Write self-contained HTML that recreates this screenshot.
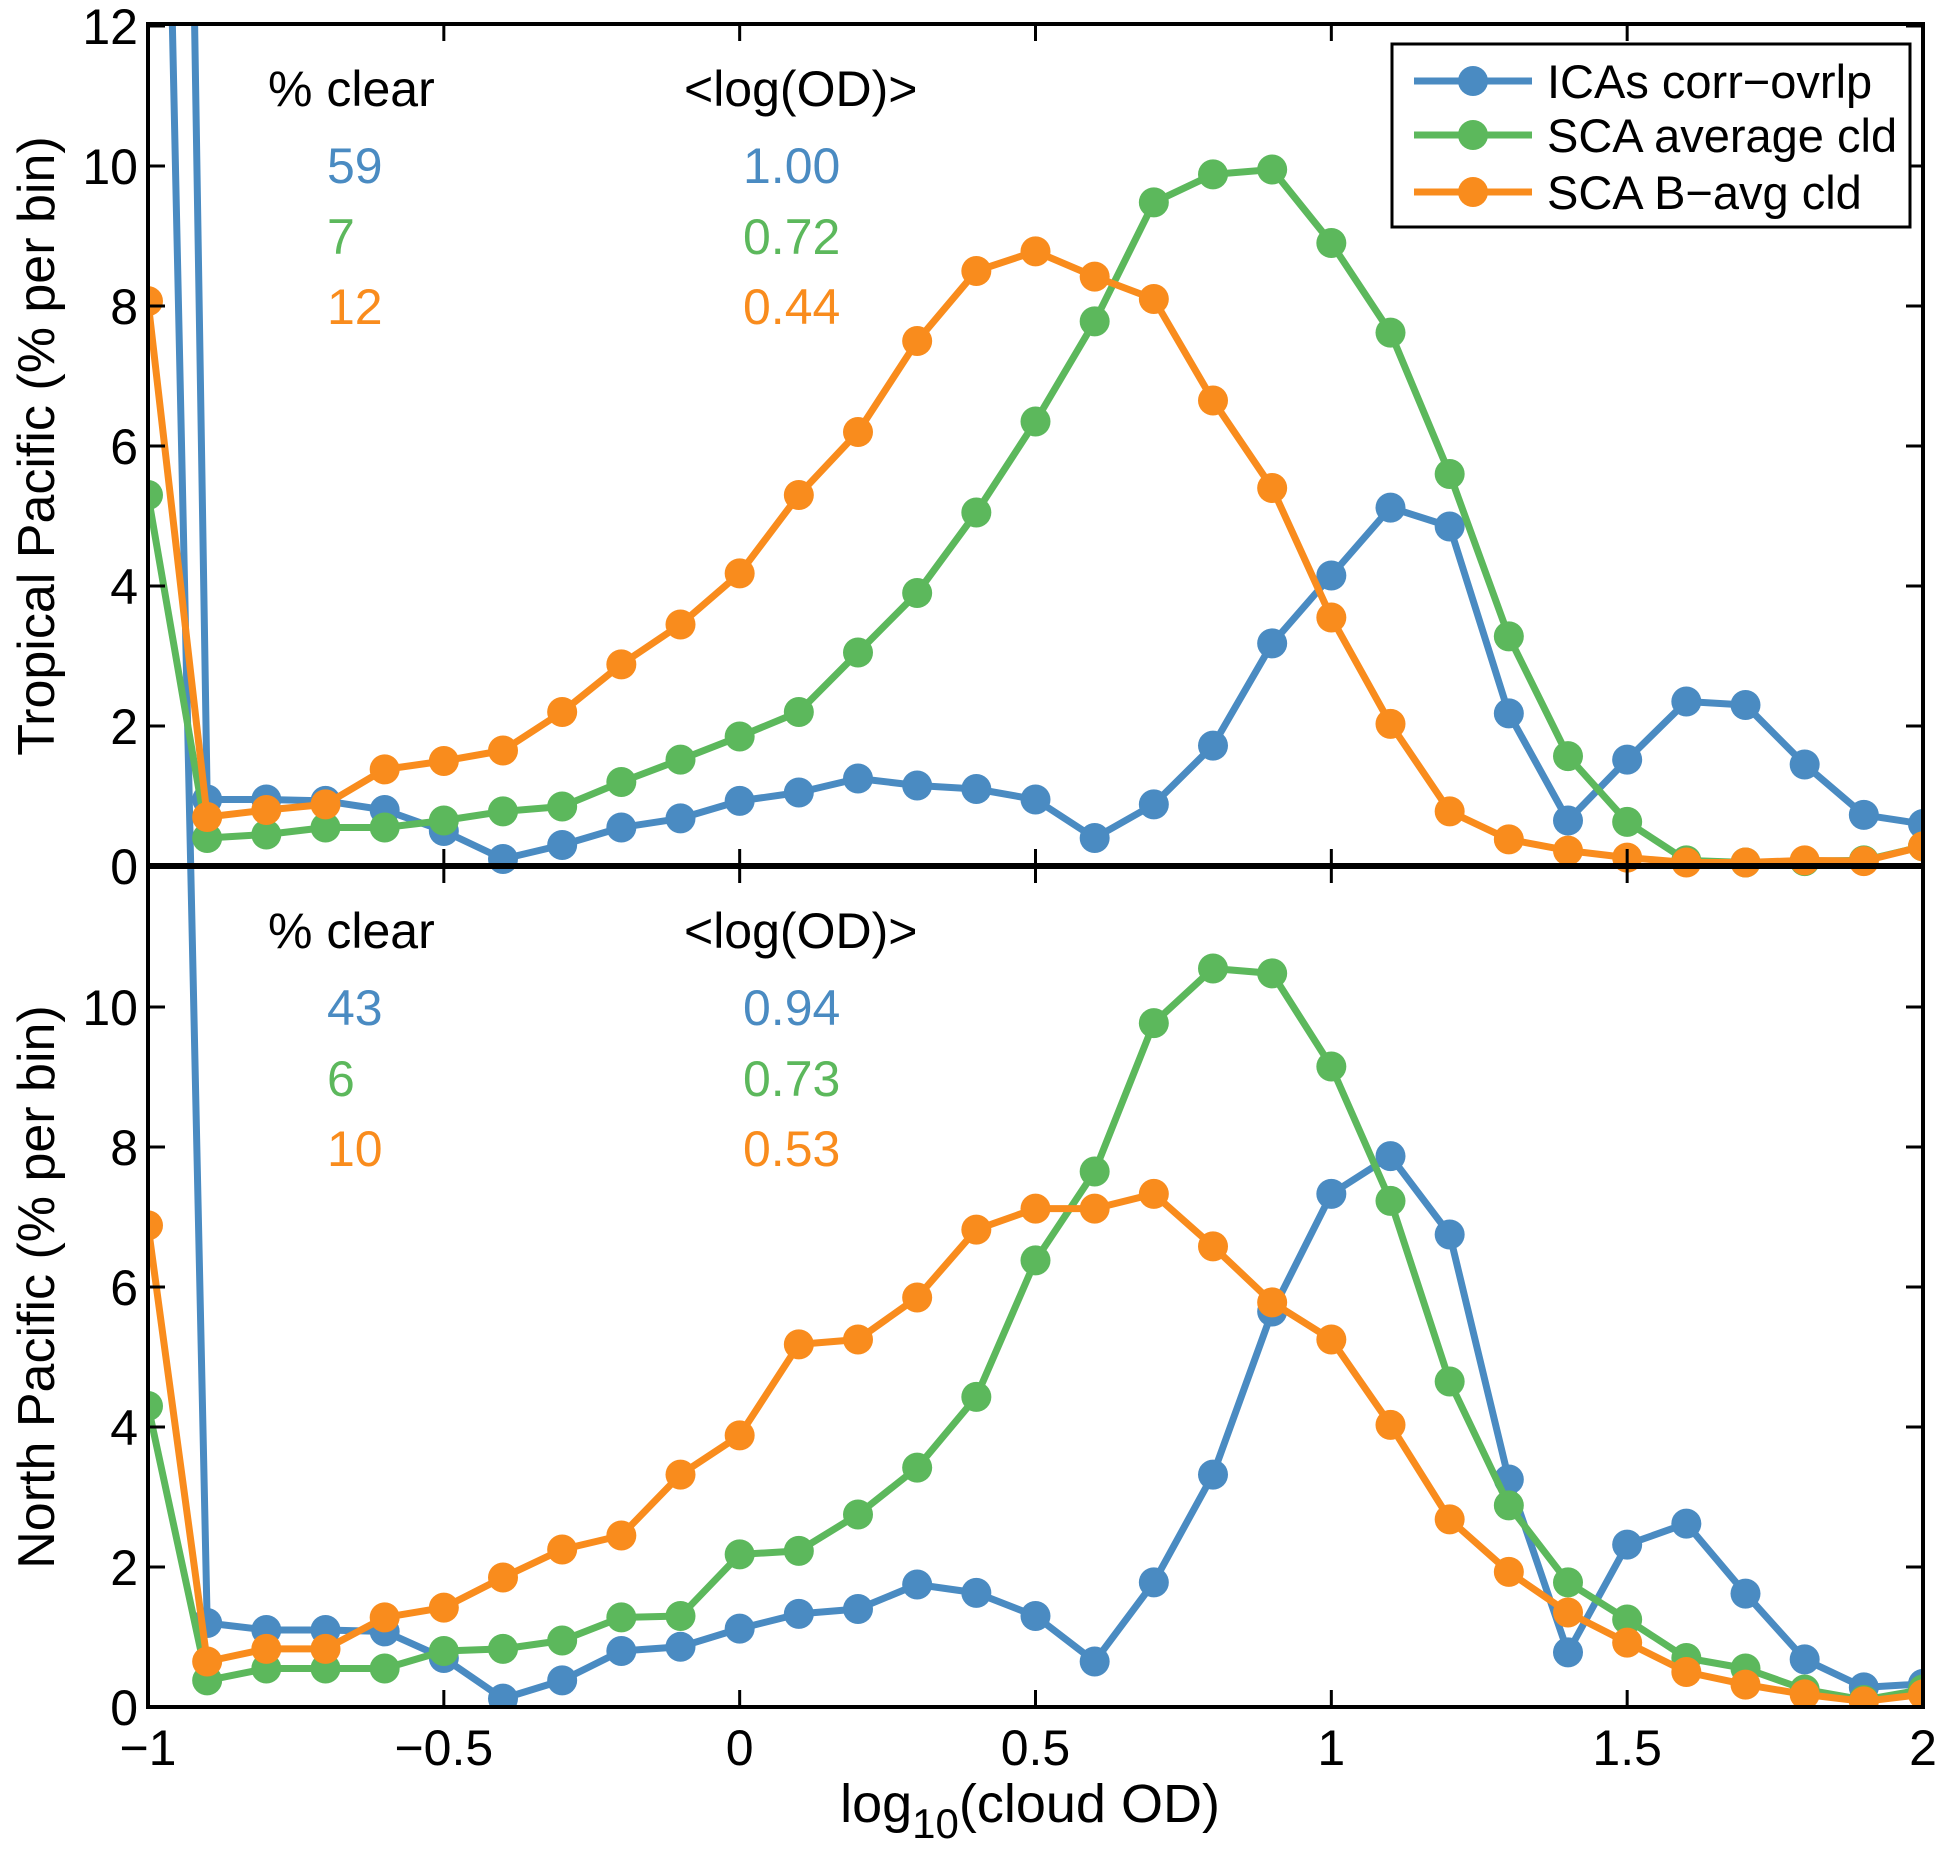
<!DOCTYPE html>
<html><head><meta charset="utf-8"><style>
html,body{margin:0;padding:0;background:#fff}
svg{display:block;font-family:"Liberation Sans",Arial,sans-serif}
</style></head><body>
<svg id="chart" width="1954" height="1855" viewBox="0 0 1954 1855" xmlns="http://www.w3.org/2000/svg">
<defs>
<clipPath id="clipAll"><rect x="148" y="24" width="1775" height="1683"/></clipPath>
</defs>
<g id="marks" clip-path="url(#clipAll)"></g>
<g id="axes"></g>
<g id="ann"></g>
</svg>
<script>
const xValues = [-1,-0.9,-0.8,-0.7,-0.6,-0.5,-0.4,-0.3,-0.2,-0.1,0,0.1,0.2,0.3,0.4,0.5,0.6,0.7,0.8,0.9,1.0,1.1,1.2,1.3,1.4,1.5,1.6,1.7,1.8,1.9,2.0];
const seriesNames = ["ICAs corr\u2212ovrlp","SCA average cld","SCA B\u2212avg cld"];
const topBlue = [53,0.95,0.95,0.93,0.8,0.5,0.1,0.3,0.55,0.68,0.93,1.05,1.25,1.15,1.1,0.95,0.4,0.88,1.72,3.18,4.15,5.12,4.85,2.18,0.65,1.52,2.35,2.3,1.45,0.73,0.6];
const topGreen = [5.3,0.4,0.45,0.55,0.55,0.65,0.78,0.85,1.2,1.52,1.85,2.2,3.05,3.9,5.05,6.35,7.78,9.48,9.88,9.95,8.9,7.62,5.6,3.28,1.57,0.63,0.08,0.05,0.07,0.08,0.28];
const topOrange = [8.07,0.7,0.8,0.88,1.38,1.5,1.65,2.2,2.88,3.45,4.18,5.3,6.2,7.5,8.5,8.78,8.42,8.1,6.65,5.4,3.55,2.03,0.78,0.38,0.22,0.12,0.05,0.05,0.08,0.07,0.28];
const botBlue = [40,1.2,1.1,1.1,1.08,0.7,0.12,0.38,0.8,0.86,1.12,1.33,1.4,1.75,1.63,1.3,0.65,1.78,3.32,5.65,7.33,7.87,6.75,3.25,0.78,2.32,2.62,1.62,0.68,0.28,0.33];
const botGreen = [4.3,0.38,0.55,0.55,0.55,0.8,0.83,0.95,1.28,1.3,2.18,2.23,2.75,3.42,4.43,6.38,7.65,9.77,10.55,10.48,9.15,7.23,4.65,2.88,1.78,1.25,0.7,0.55,0.25,0.1,0.25];
const botOrange = [6.88,0.65,0.83,0.83,1.28,1.42,1.85,2.25,2.45,3.32,3.88,5.18,5.25,5.85,6.82,7.12,7.12,7.33,6.58,5.78,5.25,4.03,2.68,1.93,1.35,0.92,0.5,0.32,0.18,0.08,0.18];
const xTicks = [-1,-0.5,0,0.5,1,1.5,2];
const xTickLabels = ["\u22121","\u22120.5","0","0.5","1","1.5","2"];
const yTicksTop = [0,2,4,6,8,10,12];
const yTicksBot = [0,2,4,6,8,10];
const clearTop = ["59","7","12"];
const odTop = ["1.00","0.72","0.44"];
const clearBot = ["43","6","10"];
const odBot = ["0.94","0.73","0.53"];

const NS="http://www.w3.org/2000/svg";
const colors=["#4a8bc2","#5cb85c","#f98c1d"];
const X0=148,X1=1923,TOP=24,MID=866,BOT=1707,PXU=70;
function xs(v){return X0+(v+1)/3*(X1-X0);}
function ysTop(v){return MID-v*PXU;}
function ysBot(v){return BOT-v*PXU;}
function mk(tag,attrs,parent){const e=document.createElementNS(NS,tag);for(const k in attrs)e.setAttribute(k,attrs[k]);parent.appendChild(e);return e;}
const marks=document.getElementById('marks'),axes=document.getElementById('axes'),ann=document.getElementById('ann');

function drawSeries(vals,ys,ci,name){
  const g=mk('g',{},marks);
  
  
  const pts=vals.map((v,i)=>xs(xValues[i]).toFixed(1)+','+ys(v).toFixed(1)).join(' ');
  const pl=mk('polyline',{points:pts,fill:'none',stroke:colors[ci],'stroke-width':7,'stroke-linejoin':'round'},g);
  
  
  vals.forEach((v,i)=>{
    const c=mk('circle',{cx:xs(xValues[i]),cy:ys(v),r:15,fill:colors[ci]},g);
    
    
  });
}
drawSeries(botBlue,ysBot,0,'north-icas');
drawSeries(botGreen,ysBot,1,'north-sca-average');
drawSeries(botOrange,ysBot,2,'north-sca-bavg');
drawSeries(topBlue,ysTop,0,'tropical-icas');
drawSeries(topGreen,ysTop,1,'tropical-sca-average');
drawSeries(topOrange,ysTop,2,'tropical-sca-bavg');

const fr=mk('rect',{x:X0,y:TOP,width:X1-X0,height:BOT-TOP,fill:'none',stroke:'#000','stroke-width':4},axes);


const ml=mk('line',{x1:X0,x2:X1,y1:MID,y2:MID,stroke:'#000','stroke-width':6},axes);


const TL=17;
xTicks.forEach((v,i)=>{
  const x=xs(v);
  mk('line',{x1:x,x2:x,y1:BOT,y2:BOT-TL,stroke:'#000','stroke-width':3},axes);
  mk('line',{x1:x,x2:x,y1:TOP,y2:TOP+TL,stroke:'#000','stroke-width':3},axes);
  mk('line',{x1:x,x2:x,y1:MID,y2:MID-TL,stroke:'#000','stroke-width':3},axes);
  mk('line',{x1:x,x2:x,y1:MID,y2:MID+TL,stroke:'#000','stroke-width':3},axes);
  const t=mk('text',{x:x,y:1765,'font-size':50,'text-anchor':'middle'},axes);
  t.textContent=xTickLabels[i];
  
  
});
function yTicks(arr,ys){
  arr.forEach(v=>{
    const y=ys(v);
    mk('line',{x1:X0,x2:X0+TL,y1:y,y2:y,stroke:'#000','stroke-width':3},axes);
    mk('line',{x1:X1,x2:X1-TL,y1:y,y2:y,stroke:'#000','stroke-width':3},axes);
    const t=mk('text',{x:X0-10,y:y+18,'font-size':50,'text-anchor':'end'},axes);
    t.textContent=String(v);
    
    
  });
}
yTicks(yTicksTop,ysTop);
yTicks(yTicksBot,ysBot);

function label(txt,x,y,fs,fill,anchor,name,rot){
  const t=mk('text',{x:x,y:y,'font-size':fs,fill:fill,'text-anchor':anchor||'start'},ann);
  if(rot)t.setAttribute('transform','rotate(-90 '+x+' '+y+')');
  t.textContent=txt;
  
  
  return t;
}
label('Tropical Pacific (% per bin)',54,446,52,'#000','middle','y-axis-title-top',true);
label('North Pacific (% per bin)',54,1287,52,'#000','middle','y-axis-title-bottom',true);
const xl=mk('text',{x:1030,y:1822,'font-size':54,'text-anchor':'middle'},ann);


xl.innerHTML='log<tspan font-size="42" dy="16">10</tspan><tspan dy="-16">(cloud OD)</tspan>';

function stats(clear,od,base,pfx){
  label('% clear',268,base,50,'#000','start',pfx+'-clear-header');
  label('<log(OD)>',684,base,50,'#000','start',pfx+'-od-header');
  const dys=[77,148,218];
  for(let i=0;i<3;i++){
    label(clear[i],327,base+dys[i],50,colors[i],'start',pfx+'-clear-value');
    label(od[i],743,base+dys[i],50,colors[i],'start',pfx+'-od-value');
  }
}
stats(clearTop,odTop,106,'tropical');
stats(clearBot,odBot,948,'north');

const lg=mk('g',{},ann);


mk('rect',{x:1392,y:44,width:518,height:183,fill:'#fff',stroke:'#000','stroke-width':3},lg);
const ly=[81,135,192];
seriesNames.forEach((n,i)=>{
  const e=mk('g',{},lg);
  
  
  mk('line',{x1:1414,x2:1532,y1:ly[i],y2:ly[i],stroke:colors[i],'stroke-width':7},e);
  mk('circle',{cx:1473,cy:ly[i],r:15,fill:colors[i]},e);
  const t=mk('text',{x:1547,y:ly[i]+17,'font-size':47},e);
  t.textContent=n;
});
</script>
</body></html>
